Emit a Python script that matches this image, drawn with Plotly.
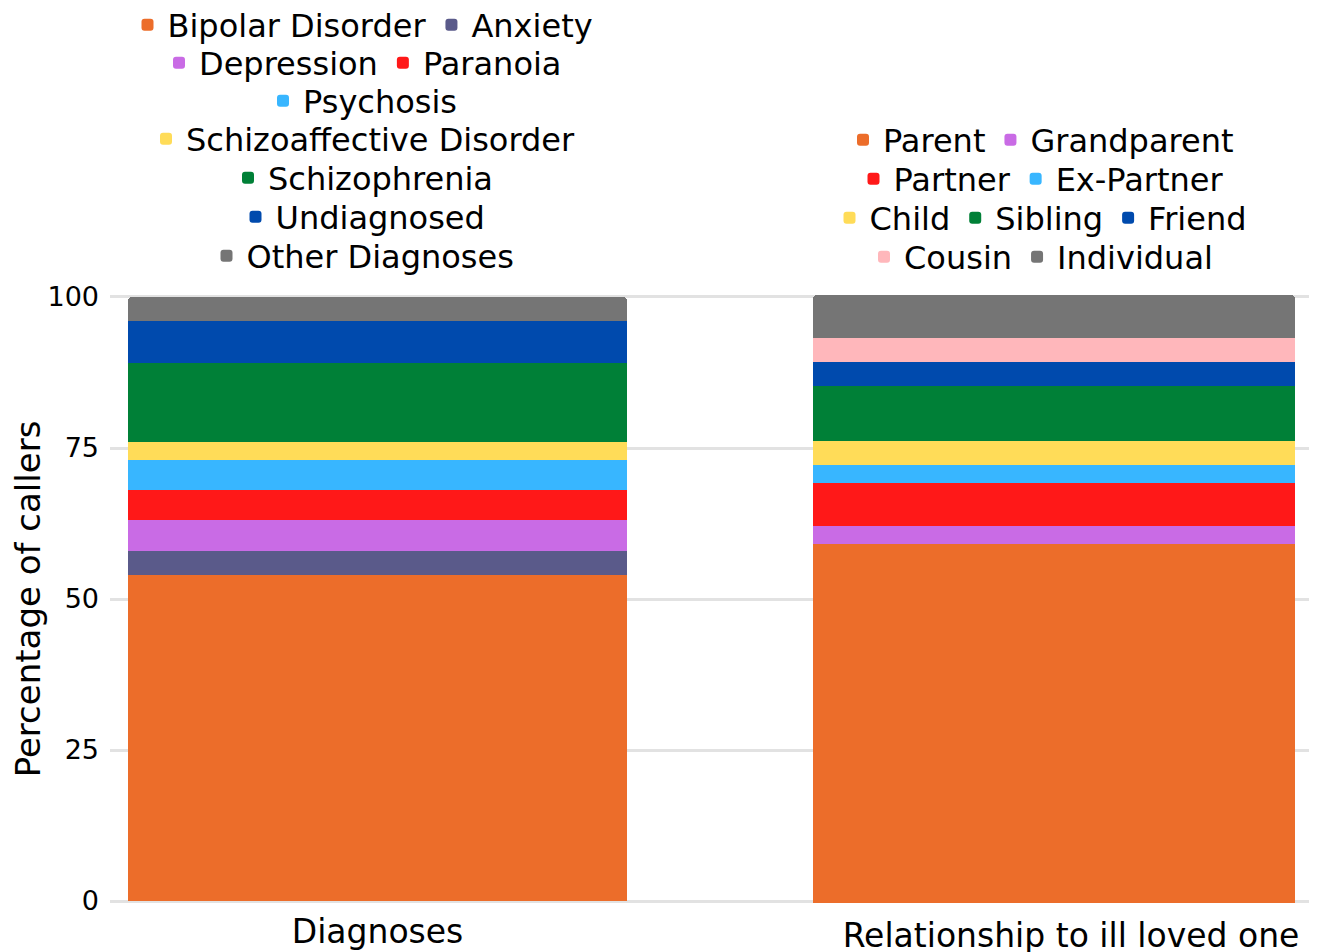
import plotly.graph_objects as go

# ---- data ----
diag_labels = ["Bipolar Disorder", "Anxiety", "Depression", "Paranoia", "Psychosis",
               "Schizoaffective Disorder", "Schizophrenia", "Undiagnosed", "Other Diagnoses"]
diag_values = [54, 4, 5, 5, 5, 3, 13, 7, 4]

rel_labels = ["Parent", "Grandparent", "Partner", "Ex-Partner", "Child",
              "Sibling", "Friend", "Cousin", "Individual"]
rel_values = [59, 3, 7, 3, 4, 9, 4, 4, 7]

categories = ["Diagnoses", "Relationship to ill loved one"]
y_ticks = [0, 25, 50, 75, 100]

# ---- styles ----
diag_colors = ["#EC6D2A", "#5A5A8A", "#C96BE5", "#FF1818", "#38B6FF",
               "#FFDC58", "#008037", "#004AAD", "#757575"]
rel_colors = ["#EC6D2A", "#C96BE5", "#FF1818", "#38B6FF", "#FFDC58",
              "#008037", "#004AAD", "#FFB7BB", "#757575"]

# legend rows (which legend each entry goes in)
diag_rows = [1, 1, 2, 2, 3, 4, 5, 6, 7]
rel_rows = [8, 8, 9, 9, 10, 10, 10, 11, 11]

FONT = "DejaVu Sans, Open Sans, sans-serif"
OFF = 8  # page body margin
W, H = 1317, 952
ML = 110 - OFF
MT = 295 - OFF
MB = H - (903 - OFF)
MR = 0
PW = W - ML - MR
PH = H - MT - MB


def lname(i):
    return "legend" if i == 1 else f"legend{i}"


fig = go.Figure()
for lab, val, col, row in zip(diag_labels, diag_values, diag_colors, diag_rows):
    fig.add_trace(go.Bar(x=[categories[0]], y=[val], name=lab, marker_color=col,
                         marker_line_width=0, width=1, xaxis="x", yaxis="y",
                         legend=lname(row), hoverinfo="name+y"))
for lab, val, col, row in zip(rel_labels, rel_values, rel_colors, rel_rows):
    fig.add_trace(go.Bar(x=[categories[1]], y=[val], name=lab, marker_color=col,
                         marker_line_width=0, width=1, xaxis="x2", yaxis="y2",
                         legend=lname(row), hoverinfo="name+y"))

# legend positions (page pixel centres)
left_cx, right_cx = 363, 1041
row_y = {1: 25, 2: 63, 3: 101, 4: 139, 5: 178, 6: 217, 7: 256,
         8: 140, 9: 179, 10: 218, 11: 257}
legends = {}
for r, yp in row_y.items():
    cx = left_cx if r <= 7 else right_cx
    legends[lname(r)] = dict(
        orientation="h", traceorder="normal",
        x=(cx - OFF - ML) / PW, xanchor="center",
        y=(H - MB - (yp - OFF)) / PH, yanchor="middle",
        font=dict(family=FONT, size=32, color="#000000"),
        bgcolor="rgba(0,0,0,0)", itemclick=False, itemdoubleclick=False,
        itemwidth=30, tracegroupgap=0,
    )

# x ranges so bars land where the reference shows them
pxu1 = 499.0
a1 = -0.5 - (128 - 110) / pxu1
pxu2 = 482.0
a2 = -0.5 - (813 - 110) / pxu2

fig.update_layout(
    width=W, height=H,
    margin=dict(l=ML, r=MR, t=MT, b=MB, pad=0, autoexpand=False),
    plot_bgcolor="white", paper_bgcolor="white",
    barmode="stack", barcornerradius=4,
    showlegend=True,
    font=dict(family=FONT, size=28, color="#000000"),
    xaxis=dict(domain=[0, 1], range=[a1, a1 + PW / pxu1], showgrid=False, zeroline=False,
               showline=False, ticks="", tickfont=dict(size=33), anchor="y",
               ticklabelstandoff=6),
    xaxis2=dict(overlaying="x", range=[a2, a2 + PW / pxu2], showgrid=False, zeroline=False,
                showline=False, ticks="", tickfont=dict(size=33), anchor="y",
                ticklabelstandoff=10, ticklabelshift=17),
    yaxis=dict(range=[-0.33, 100.33], tickvals=y_ticks, showgrid=True,
               gridcolor="#E2E2E2", gridwidth=3, zeroline=False, showline=False,
               ticks="", tickfont=dict(size=27), ticklabelstandoff=10,
               title=dict(text="Percentage of callers", font=dict(size=34), standoff=9)),
    yaxis2=dict(overlaying="y", range=[0, 100], showgrid=False, zeroline=False,
                showline=False, showticklabels=False, ticks="", anchor="x"),
    **legends,
)

fig.write_html("out.html")
